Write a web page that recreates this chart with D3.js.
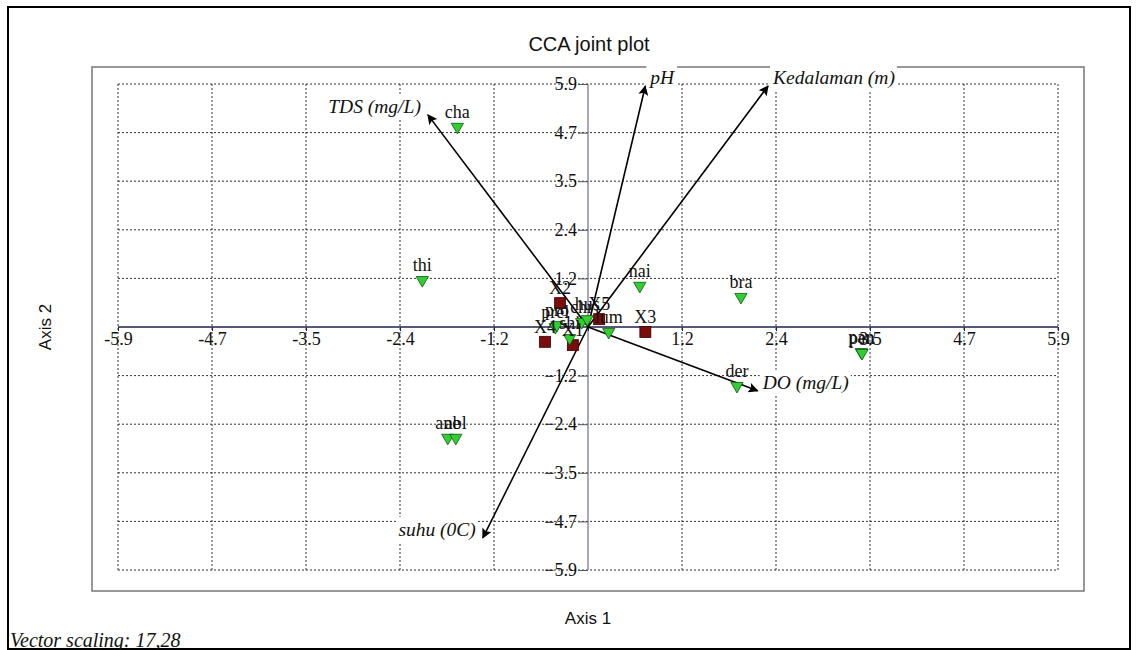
<!DOCTYPE html>
<html>
<head>
<meta charset="utf-8">
<script src="https://cdn.jsdelivr.net/npm/d3@7"></script>
<style>
    body { margin: 0; background: #fff; }
</style>
</head>
<body>
<div id="ccaplot"></div>
<script>
// species scores (green triangles)
var speciesNames = ["cha", "thi", "nai", "bra", "der", "pan", "pen", "ane", "abl", "prel", "pro", "chr", "hus", "shi", "lum"];
var speciesAx1 = [-1.64, -2.08, 0.65, 1.92, 1.87, 3.43, 3.44, -1.76, -1.66, -0.41, -0.39, -0.08, -0.01, -0.23, 0.26];
var speciesAx2 = [4.86, 1.14, 1.00, 0.73, -1.43, -0.61, -0.63, -2.69, -2.69, 0.00, 0.05, 0.12, 0.19, -0.27, -0.12];

// site scores (red squares)
var siteNames = ["X1", "X2", "X3", "X4", "X5"];
var siteAx1 = [-0.19, -0.35, 0.72, -0.54, 0.14];
var siteAx2 = [-0.44, 0.58, -0.12, -0.36, 0.19];

// environmental vectors
var envNames = ["TDS (mg/L)", "pH", "Kedalaman (m)", "DO (mg/L)", "suhu (0C)"];
var envAx1 = [-2.01, 0.72, 2.26, 2.13, -1.32];
var envAx2 = [5.15, 5.85, 5.85, -1.55, -5.12];

var tickValues = [-5.9, -4.72, -3.54, -2.36, -1.18, 0, 1.18, 2.36, 3.54, 4.72, 5.9];
var tickLabels = ["-5.9", "-4.7", "-3.5", "-2.4", "-1.2", "", "1.2", "2.4", "3.5", "4.7", "5.9"];

function init() {
    var w = 1138;
    var h = 650;
    var serif = "Liberation Serif";
    var sans = "Liberation Sans";

    var svg = d3.select("#ccaplot")
        .append("svg")
        .attr("width", w)
        .attr("height", h);

    // outer frame
    svg.append("rect")
        .attr("x", 8).attr("y", 7)
        .attr("width", 1122).attr("height", 642)
        .attr("fill", "none")
        .attr("stroke", "#000")
        .attr("stroke-width", 2);

    // plot frame
    svg.append("rect")
        .attr("x", 92).attr("y", 67)
        .attr("width", 992).attr("height", 524)
        .attr("fill", "none")
        .attr("stroke", "#777")
        .attr("stroke-width", 1.5);

    var xScale = d3.scaleLinear().domain([-5.9, 5.9]).range([118, 1058]);
    var yScale = d3.scaleLinear().domain([-5.9, 5.9]).range([570, 84]);

    var g = svg.append("g");
    var gridTicks = tickValues.filter(function(d) { return d !== 0; });

    // grid
    g.selectAll("line.vgrid")
        .data(gridTicks)
        .enter()
        .append("line")
        .attr("x1", function(d) { return xScale(d); })
        .attr("x2", function(d) { return xScale(d); })
        .attr("y1", yScale(5.9))
        .attr("y2", yScale(-5.9))
        .attr("stroke", "#333")
        .attr("stroke-width", 1)
        .attr("stroke-dasharray", "2,2");

    g.selectAll("line.hgrid")
        .data(gridTicks)
        .enter()
        .append("line")
        .attr("y1", function(d) { return yScale(d); })
        .attr("y2", function(d) { return yScale(d); })
        .attr("x1", xScale(-5.9))
        .attr("x2", xScale(5.9))
        .attr("stroke", "#333")
        .attr("stroke-width", 1)
        .attr("stroke-dasharray", "2,2");

    // zero axes
    g.append("line")
        .attr("x1", xScale(0)).attr("x2", xScale(0))
        .attr("y1", yScale(5.9)).attr("y2", yScale(-5.9))
        .attr("stroke", "#8a8aa8")
        .attr("stroke-width", 1.5);

    g.append("line")
        .attr("x1", xScale(-5.9)).attr("x2", xScale(5.9))
        .attr("y1", yScale(0)).attr("y2", yScale(0))
        .attr("stroke", "#20204a")
        .attr("stroke-width", 1.5);

    // x axis on the zero line
    var xAxis = d3.axisBottom(xScale)
        .tickValues(tickValues)
        .tickFormat(function(d, i) { return tickLabels[i]; })
        .tickSize(4)
        .tickPadding(1);

    var xg = g.append("g")
        .attr("transform", "translate(0," + yScale(0) + ")")
        .call(xAxis);
    xg.select(".domain").remove();
    xg.attr("font-family", serif).attr("font-size", 18);
    xg.selectAll("text").attr("fill", "#111");
    xg.selectAll("line").attr("stroke", "#20204a");

    // y axis on the zero line
    var yAxis = d3.axisLeft(yScale)
        .tickValues(gridTicks)
        .tickFormat(d3.format(".1f"))
        .tickSize(10)
        .tickPadding(1);

    var yg = g.append("g")
        .attr("transform", "translate(" + xScale(0) + ",0)")
        .call(yAxis);
    yg.select(".domain").remove();
    yg.attr("font-family", serif).attr("font-size", 18);
    yg.selectAll("text").attr("fill", "#111");
    yg.selectAll("line").attr("stroke", "#555");

    // arrows
    svg.append("defs").append("marker")
        .attr("id", "head")
        .attr("viewBox", "0 0 10 10")
        .attr("refX", 9).attr("refY", 5)
        .attr("markerWidth", 11).attr("markerHeight", 10)
        .attr("markerUnits", "userSpaceOnUse")
        .attr("orient", "auto")
        .append("path")
        .attr("d", "M0,0 L10,5 L0,10 L2,5 Z")
        .attr("fill", "#000");

    var envIdx = d3.range(envNames.length);

    g.selectAll("line.env")
        .data(envIdx)
        .enter()
        .append("line")
        .attr("x1", xScale(0)).attr("y1", yScale(0))
        .attr("x2", function(i) { return xScale(envAx1[i]); })
        .attr("y2", function(i) { return yScale(envAx2[i]); })
        .attr("stroke", "#000")
        .attr("stroke-width", 1.6)
        .attr("marker-end", "url(#head)");

    // sites
    var siteIdx = d3.range(siteNames.length);
    g.selectAll("rect.site")
        .data(siteIdx)
        .enter()
        .append("rect")
        .attr("x", function(i) { return xScale(siteAx1[i]) - 5.5; })
        .attr("y", function(i) { return yScale(siteAx2[i]) - 5.5; })
        .attr("width", 11).attr("height", 11)
        .attr("fill", "#7a0c0c")
        .attr("stroke", "#3a0000")
        .attr("stroke-width", 0.8);

    // species
    var spIdx = d3.range(speciesNames.length);
    var tri = d3.symbol().type(d3.symbolTriangle).size(65);
    g.selectAll("path.sp")
        .data(spIdx)
        .enter()
        .append("path")
        .attr("d", tri)
        .attr("transform", function(i) {
            return "translate(" + xScale(speciesAx1[i]) + "," + yScale(speciesAx2[i]) + ") rotate(180)";
        })
        .attr("fill", "#2fd02f")
        .attr("stroke", "#145214")
        .attr("stroke-width", 0.8);

    // labels for sites and species
    g.selectAll("text.site")
        .data(siteIdx)
        .enter()
        .append("text")
        .attr("x", function(i) { return xScale(siteAx1[i]); })
        .attr("y", function(i) { return yScale(siteAx2[i]) - 9; })
        .attr("text-anchor", "middle")
        .attr("font-family", serif)
        .attr("font-size", 18)
        .attr("fill", "#111")
        .text(function(i) { return siteNames[i]; });

    g.selectAll("text.sp")
        .data(spIdx)
        .enter()
        .append("text")
        .attr("x", function(i) { return xScale(speciesAx1[i]); })
        .attr("y", function(i) { return yScale(speciesAx2[i]) - 9; })
        .attr("text-anchor", "middle")
        .attr("font-family", serif)
        .attr("font-size", 18)
        .attr("fill", "#111")
        .text(function(i) { return speciesNames[i]; });

    // vector labels with white boxes
    var envLab = svg.selectAll("g.envlab")
        .data(envIdx)
        .enter()
        .append("g");

    envLab.append("text")
        .attr("x", function(i) {
            return envAx1[i] > 0 ? xScale(envAx1[i]) + 5 : xScale(envAx1[i]) - 7;
        })
        .attr("y", function(i) { return yScale(envAx2[i]) - 2; })
        .attr("text-anchor", function(i) { return envAx1[i] > 0 ? "start" : "end"; })
        .attr("font-family", serif)
        .attr("font-style", "italic")
        .attr("font-size", 19.5)
        .attr("fill", "#111")
        .text(function(i) { return envNames[i]; });

    envLab.each(function() {
        var t = d3.select(this).select("text");
        var b = t.node().getBBox();
        d3.select(this).insert("rect", "text")
            .attr("x", b.x - 2)
            .attr("y", b.y - 2)
            .attr("width", b.width + 4)
            .attr("height", b.height + 3)
            .attr("fill", "#fff");
    });

    // titles
    svg.append("text")
        .attr("x", 589).attr("y", 51)
        .attr("text-anchor", "middle")
        .attr("font-family", sans)
        .attr("font-size", 20)
        .attr("fill", "#111")
        .text("CCA joint plot");

    svg.append("text")
        .attr("x", 588).attr("y", 624)
        .attr("text-anchor", "middle")
        .attr("font-family", sans)
        .attr("font-size", 17)
        .attr("fill", "#111")
        .text("Axis 1");

    svg.append("text")
        .attr("transform", "translate(51,327) rotate(-90)")
        .attr("text-anchor", "middle")
        .attr("font-family", sans)
        .attr("font-size", 17)
        .attr("fill", "#111")
        .text("Axis 2");

    svg.append("text")
        .attr("x", 10).attr("y", 647)
        .attr("font-family", serif)
        .attr("font-style", "italic")
        .attr("font-size", 20)
        .attr("fill", "#111")
        .text("Vector scaling: 17,28");
}

window.onload = init;
</script>
</body>
</html>
